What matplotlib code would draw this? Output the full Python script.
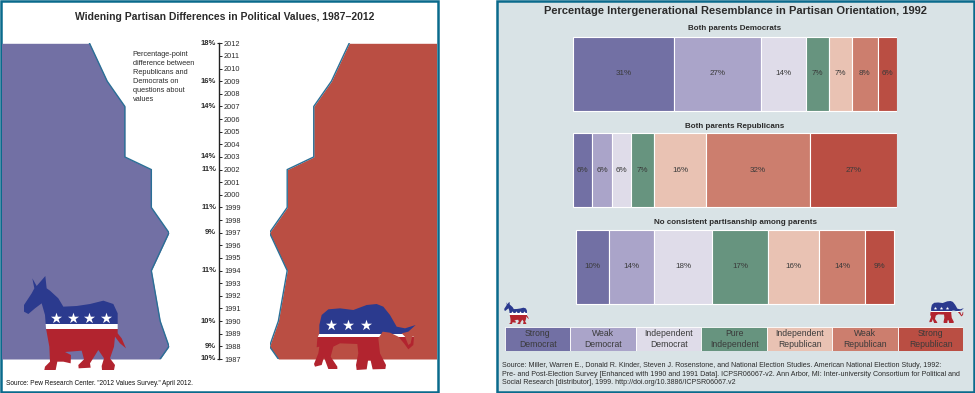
#!/usr/bin/env python3
# -*- coding: utf-8 -*-
import matplotlib
matplotlib.use('Agg')
import numpy as np
import matplotlib.pyplot as plt
from matplotlib.patches import Polygon, Rectangle

plt.rcParams['font.family'] = ['Liberation Sans', 'DejaVu Sans']

W, H = 975, 393

# left chart, partisan gap at the labelled years
gap_years = [1987, 1988, 1990, 1994, 1997, 1999, 2002, 2003, 2007, 2009, 2012]
gap_values = [10, 9, 10, 11, 9, 11, 11, 14, 14, 16, 18]
all_years = list(range(1987, 2013))

# right chart
groups = ['Both parents Democrats', 'Both parents Republicans',
          'No consistent partisanship among parents']
categories = ['Strong\nDemocrat', 'Weak\nDemocrat', 'Independent\nDemocrat',
              'Pure\nIndependent', 'Independent\nRepublican', 'Weak\nRepublican',
              'Strong\nRepublican']
both_dem = [31, 27, 14, 7, 7, 8, 6]
both_rep = [6, 6, 6, 7, 16, 32, 27]
no_consistent = [10, 14, 18, 17, 16, 14, 9]
colors = ['#7270a4', '#aaa4c9', '#dfdce9', '#67947f', '#e9c2b3', '#cc7e6e', '#ba4e43']

BLUE, RED = '#7270a4', '#ba4e43'
TEAL = '#0a6a8c'
TEXT = '#2b2b2b'
NAVY, LOGO_RED = '#2b3a8e', '#b2242f'

# logo outlines, traced in 3x zoomed pixels
donkey = [(97, 835), (110, 858), (136, 828), (140, 865), (150, 872), (175, 895), (190, 920),
          (230, 918), (270, 912), (310, 902), (340, 912), (353, 940), (353, 1000), (365, 1015),
          (378, 1045), (360, 1030), (345, 1010), (342, 1040), (330, 1075), (345, 1095),
          (342, 1110), (306, 1110), (305, 1098), (312, 1075), (295, 1050), (270, 1090),
          (272, 1103), (236, 1105), (235, 1095), (252, 1078), (245, 1052), (195, 1056),
          (213, 1065), (212, 1090), (190, 1085), (172, 1085), (167, 1110), (133, 1110),
          (135, 1100), (150, 1085), (148, 1040), (138, 985), (135, 945), (125, 910),
          (105, 925), (85, 942), (72, 935), (72, 915), (95, 880), (103, 865)]
elephant = [(958, 975), (965, 945), (985, 928), (1020, 925), (1060, 930), (1100, 915),
            (1130, 912), (1150, 920), (1170, 945), (1190, 980), (1215, 985), (1247, 975),
            (1225, 995), (1205, 1000), (1215, 1010), (1225, 1035), (1232, 1030), (1236, 1010),
            (1242, 1010), (1240, 1035), (1225, 1048), (1212, 1030), (1195, 1010), (1170, 998),
            (1148, 995), (1135, 1015), (1140, 1060), (1158, 1095), (1156, 1107), (1118, 1108),
            (1112, 1082), (1104, 1082), (1100, 1108), (1070, 1110), (1068, 1095),
            (1075, 1060), (1072, 1032), (1020, 1030), (1000, 1040), (992, 1070), (1012, 1100),
            (1012, 1107), (985, 1107), (972, 1072), (965, 1095), (945, 1100), (942, 1092),
            (955, 1060), (958, 1040), (950, 1042), (952, 1015), (958, 1000)]


def px_axes(x0, y0, x1, y1, **kw):
    # axes placed by pixel box, y measured from the top
    return fig.add_axes([x0/W, 1-y1/H, (x1-x0)/W, (y1-y0)/H], **kw)


def draw_logo(ax, outline, x, y, scale, stripe, stars, star_size):
    pts = np.array(outline, dtype=float)
    x0, y0 = pts[:, 0].min(), pts[:, 1].min()
    conv = lambda p: np.column_stack([x+(p[:, 0]-x0)/3*scale, y+(p[:, 1]-y0)/3*scale])
    shape = Polygon(conv(pts), closed=True, fc='none', ec='none', zorder=5)
    ax.add_patch(shape)
    xy = conv(np.array([[pts[:, 0].min(), stripe[0]], [pts[:, 0].max(), stripe[1]]]))
    left, width = xy[0, 0], xy[1, 0]-xy[0, 0]
    top, bottom = y, conv(pts)[:, 1].max()
    bands = [(top, xy[0, 1], NAVY), (xy[0, 1], xy[1, 1], 'white'), (xy[1, 1], bottom, LOGO_RED)]
    for a, b, c in bands:
        r = Rectangle((left, a), width, b-a, fc=c, ec='none', zorder=5)
        ax.add_patch(r)
        r.set_clip_path(shape)
    s = conv(np.array(stars, dtype=float))
    ax.scatter(s[:, 0], s[:, 1], marker='*', s=star_size, c='white', linewidths=0, zorder=6)


fig = plt.figure(figsize=(W/100, H/100), dpi=100, facecolor='white')

# panels and text in pixel coordinates
bg = px_axes(0, 0, W, H, zorder=0)
bg.set_xlim(0, W)
bg.set_ylim(H, 0)
bg.axis('off')
bg.add_patch(Rectangle((1, 1), 436.5, 390.5, fc='white', ec=TEAL, lw=1.8))
bg.add_patch(Rectangle((497, 1), 477, 390.5, fc='#d9e3e6', ec=TEAL, lw=1.8))

# wings of the left chart, the gap is what separates them
ax_l = px_axes(2, 43.3, 169, 359, zorder=1)
ax_l.fill_betweenx(gap_years, 40, gap_values, color=BLUE, lw=0)
ax_l.plot(gap_values, gap_years, color='#2a6f96', lw=1)
ax_l.set_xlim(9+167/8.83, 9)
ax_l.set_ylim(1987, 2012)
ax_l.axis('off')

ax_r = px_axes(269.5, 43.3, 436, 359, zorder=1)
ax_r.fill_betweenx(gap_years, gap_values, 40, color=RED, lw=0)
ax_r.plot(gap_values, gap_years, color='#2a6f96', lw=1)
ax_r.set_xlim(9, 9+166.5/8.85)
ax_r.set_ylim(1987, 2012)
ax_r.axis('off')

# year axis in the middle
ax_c = px_axes(219, 43.3, 222, 359, zorder=1)
ax_c.set_xlim(0, 1)
ax_c.set_ylim(1987, 2012)
ax_c.patch.set_alpha(0)
for sp in ['top', 'right', 'bottom']:
    ax_c.spines[sp].set_visible(False)
ax_c.spines['left'].set_linewidth(1)
ax_c.spines['left'].set_color('#222222')
ax_c.set_xticks([])
ax_c.set_yticks(all_years)
ax_c.tick_params(axis='y', direction='in', left=False, right=True, length=2, width=0.7,
                 labelleft=False, labelright=True, labelsize=5.3, pad=1.5,
                 labelcolor=TEXT, color='#222222')
ax_c.yaxis.set_ticks_position('right')
ax_c.hlines([1987, 2012], -0.8, 0, color='#222222', lw=0.8, clip_on=False)
for yr, v in zip(gap_years, gap_values):
    ax_c.annotate('%d%%' % v, (0, yr), xytext=(-2, 0), textcoords='offset points',
                  ha='right', va='center', fontsize=5.5, fontweight='bold', color=TEXT)

bg.text(224.7, 17.5, 'Widening Partisan Differences in Political Values, 1987–2012',
        ha='center', va='center', fontsize=7.45, fontweight='bold', color=TEXT)
note = ['Percentage-point', 'difference between', 'Republicans and', 'Democrats on',
        'questions about', 'values']
for i, line in enumerate(note):
    bg.text(132.7, 54.5+9*i, line, ha='left', va='center', fontsize=5.3, color=TEXT)
bg.text(6, 383.5, 'Source: Pew Research Center. "2012 Values Survey." April 2012.',
        ha='left', va='center', fontsize=4.7, color='#111111')

# stacked bars of the right chart
ax_b = px_axes(573, 30, 897.3, 310.5, zorder=1)
rows = [both_dem, both_rep, no_consistent]
starts = [0, 0, 1]
for r, (vals, start) in enumerate(zip(rows, starts)):
    left = start
    for v, c in zip(vals, colors):
        ax_b.barh(r, v, left=left, height=0.766, color=c, edgecolor='white', linewidth=0.8)
        ax_b.text(left+v/2, r, '%d%%' % v, ha='center', va='center', fontsize=5.8, color='#3a3a3a')
        left += v
ax_b.set_xlim(0, 100)
ax_b.set_ylim(2+(310.5-267)/96.6, -(73.8-30)/96.6)
ax_b.axis('off')

bg.text(735, 11, 'Percentage Intergenerational Resemblance in Partisan Orientation, 1992',
        ha='center', va='center', fontsize=8.0, fontweight='bold', color=TEXT)
for y, g in zip([29, 126, 222.3], groups):
    bg.text(735, y, g, ha='center', va='center', fontsize=5.8, fontweight='bold', color=TEXT)

# legend strip
ax_k = px_axes(505, 326.7, 963.3, 351, zorder=1)
for i, (cat, c) in enumerate(zip(categories, colors)):
    ax_k.bar(i, 1, width=1, color=c, edgecolor='white', linewidth=0.6)
    ax_k.text(i, 0.5, cat, ha='center', va='center', fontsize=6.2, linespacing=1.25, color='#3a3a3a')
ax_k.set_xlim(-0.5, 6.5)
ax_k.set_ylim(0, 1)
ax_k.axis('off')

bg_src = ['Source: Miller, Warren E., Donald R. Kinder, Steven J. Rosenstone, and National Election Studies. American National Election Study, 1992:',
          'Pre- and Post-Election Survey [Enhanced with 1990 and 1991 Data]. ICPSR06067-v2. Ann Arbor, MI: Inter-university Consortium for Political and',
          'Social Research [distributor], 1999. http://doi.org/10.3886/ICPSR06067.v2']
for i, line in enumerate(bg_src):
    bg.text(502, 365.7+8.5*i, line, ha='left', va='center', fontsize=5.1, color=TEXT)

# logos sit on top of everything
top = px_axes(0, 0, W, H, zorder=3)
top.set_xlim(0, W)
top.set_ylim(H, 0)
top.axis('off')
d_stars = [(168, 953), (218, 953), (268, 953), (319, 953)]
e_stars = [(992, 975), (1045, 975), (1098, 975)]
draw_logo(top, donkey, 24, 276, 1, (973, 988), d_stars, 70)
draw_logo(top, elephant, 314, 304, 1, (1003, 1012), e_stars, 70)
draw_logo(top, donkey, 504.3, 301.7, 0.242, (973, 988), d_stars, 4)
draw_logo(top, elephant, 929.3, 301, 0.34, (1003, 1012), e_stars, 7)

fig.savefig('out.png', dpi=100, facecolor='white')
